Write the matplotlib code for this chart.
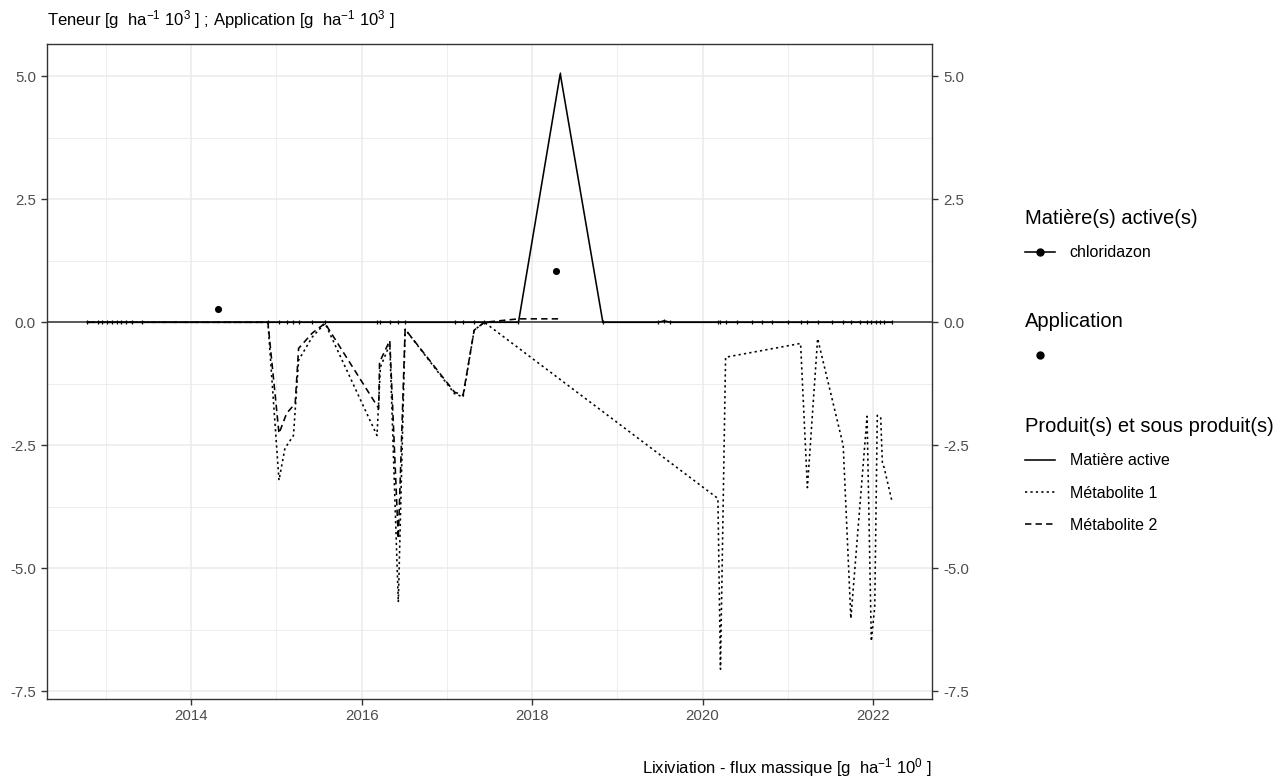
import numpy as np
import matplotlib
matplotlib.use("Agg")
import matplotlib.pyplot as plt
from matplotlib.lines import Line2D

plt.rcParams["font.family"] = ["Liberation Sans", "DejaVu Sans"]
plt.rcParams["mathtext.fontset"] = "custom"
plt.rcParams["mathtext.rm"] = "Liberation Sans"
plt.rcParams["mathtext.it"] = "Liberation Sans:italic"

# --- data (decimal years, values in g/ha x10^3) ---
early_dates = [2012.78, 2012.91, 2012.95, 2013.01, 2013.07, 2013.13, 2013.18, 2013.24, 2013.30, 2013.42]

active_dates = early_dates + [2014.90, 2015.03, 2015.12, 2015.20, 2015.26, 2015.42, 2015.57,
                              2016.18, 2016.21, 2016.33, 2016.43, 2016.51, 2017.09, 2017.19,
                              2017.32, 2017.44, 2017.84, 2018.33, 2018.83, 2019.48, 2019.55,
                              2019.62, 2020.18, 2020.21, 2020.27, 2020.40, 2020.58, 2020.70,
                              2020.82, 2021.00, 2021.15, 2021.23, 2021.35, 2021.52, 2021.65,
                              2021.74, 2021.85, 2021.93, 2021.98, 2022.04, 2022.08, 2022.13,
                              2022.22]
active_vals = [0.0] * 10 + [0.0, 0.0, 0.0, 0.0, 0.0, 0.0, 0.0,
                            0.0, 0.0, 0.0, 0.0, 0.0, 0.0, 0.0,
                            0.0, 0.0, 0.0, 5.05, 0.0, 0.0, 0.03,
                            0.0, 0.0, 0.0, 0.0, 0.0, 0.0, 0.0,
                            0.0, 0.0, 0.0, 0.0, 0.0, 0.0, 0.0,
                            0.0, 0.0, 0.0, 0.0, 0.0, 0.0, 0.0,
                            0.0]

met1_dates = early_dates + [2014.90, 2015.03, 2015.10, 2015.20, 2015.26, 2015.42, 2015.57,
                            2016.18, 2016.22, 2016.33, 2016.43, 2016.51, 2017.09, 2017.19,
                            2017.32, 2017.44, 2020.18, 2020.21, 2020.27, 2021.15, 2021.23,
                            2021.35, 2021.65, 2021.74, 2021.93, 2021.98, 2022.02, 2022.05,
                            2022.09, 2022.11, 2022.13, 2022.22]
met1_vals = [0.0] * 10 + [0.0, -3.21, -2.56, -2.30, -0.77, -0.30, -0.02,
                          -2.30, -0.91, -0.45, -5.69, -0.14, -1.45, -1.52,
                          -0.16, 0.0, -3.58, -7.05, -0.71, -0.43, -3.36,
                          -0.33, -2.50, -6.02, -1.91, -6.48, -5.79, -1.89,
                          -1.93, -2.87, -2.95, -3.62]

met2_dates = early_dates + [2014.90, 2015.03, 2015.12, 2015.22, 2015.26, 2015.42, 2015.57,
                            2016.20, 2016.21, 2016.33, 2016.43, 2016.51, 2017.09, 2017.19,
                            2017.32, 2017.44, 2017.84, 2018.33]
met2_vals = [0.0] * 10 + [0.0, -2.26, -1.85, -1.65, -0.53, -0.22, -0.02,
                          -1.75, -0.81, -0.37, -4.40, -0.14, -1.42, -1.48,
                          -0.16, 0.0, 0.07, 0.07]

app_dates = [2014.31, 2018.28]
app_vals = [0.26, 1.05]

y_ticks = [-7.5, -5.0, -2.5, 0.0, 2.5, 5.0]
x_ticks = [2014, 2016, 2018, 2020, 2022]

# --- figure ---
fig = plt.figure(figsize=(12.79, 7.80), dpi=100)
ax = fig.add_axes([47 / 1279, 81 / 780, 885 / 1279, 655 / 780])

GRID = "#ebebeb"
lw = 1.15
DOT = (1.4, 2.0)
DASH = (4.0, 2.6)
ax.axhline(0, color="#4d4d4d", lw=1.3, zorder=2)
ax.plot(active_dates, active_vals, color="black", lw=lw, marker="|", ms=2.5, mew=0.9,
        solid_joinstyle="miter", zorder=3)
ax.plot(met1_dates, met1_vals, color="black", lw=lw, dashes=DOT, zorder=3)
ax.plot(met2_dates, met2_vals, color="black", lw=lw, dashes=DASH, zorder=3)
ax.scatter(app_dates, app_vals, s=26, color="black", zorder=4, linewidths=0)

# ggplot-like 5% expansion
all_x = active_dates + met1_dates + met2_dates + app_dates
all_y = active_vals + met1_vals + met2_vals + app_vals
x0, x1 = min(all_x), max(all_x)
y0, y1 = min(all_y), max(all_y)
ax.set_xlim(x0 - 0.05 * (x1 - x0), x1 + 0.05 * (x1 - x0))
ax.set_ylim(y0 - 0.05 * (y1 - y0), y1 + 0.05 * (y1 - y0))

ax.set_xticks(x_ticks)
ax.set_xticks([2013, 2015, 2017, 2019, 2021], minor=True)
ax.set_yticks(y_ticks)
ax.set_yticks([-6.25, -3.75, -1.25, 1.25, 3.75], minor=True)
ax.set_yticklabels([f"{v:.1f}" for v in y_ticks])
ax.grid(which="major", color=GRID, lw=1.1)
ax.grid(which="minor", color=GRID, lw=0.6)
ax.set_axisbelow(True)
ax.tick_params(which="major", length=4, width=1.0, color="#333333",
               labelsize=10.8, labelcolor="#4d4d4d", right=True, labelright=True)
ax.tick_params(axis="y", which="major", pad=4)
ax.tick_params(which="minor", length=0)
for s in ax.spines.values():
    s.set_color("#333333")
    s.set_linewidth(1.0)

fig.text(47 / 1279, 1 - 20 / 780,
         r"Teneur [g  ha$^{-1}$ 10$^{3}$ ] ; Application [g  ha$^{-1}$ 10$^{3}$ ]",
         ha="left", va="center", fontsize=12)
fig.text(932 / 1279, 1 - 768 / 780,
         r"Lixiviation - flux massique [g  ha$^{-1}$ 10$^{0}$ ]",
         ha="right", va="center", fontsize=12)

# --- legends ---
leg_kw = dict(frameon=False, alignment="left", fontsize=11.5, title_fontsize=14.5,
              handlelength=1.9, handletextpad=0.9, labelspacing=1.08, borderpad=0,
              borderaxespad=0, loc="upper left")
h1 = [Line2D([], [], color="black", lw=lw, marker="o", ms=5)]
leg1 = fig.legend(h1, ["chloridazon"], title="Matière(s) active(s)",
                  bbox_to_anchor=(1025 / 1279, 1 - 209 / 780), **leg_kw)
h2 = [Line2D([], [], color="black", lw=0, marker="o", ms=5)]
leg2 = fig.legend(h2, [""], title="Application",
                  bbox_to_anchor=(1025 / 1279, 1 - 312 / 780), **leg_kw)
h3 = [Line2D([], [], color="black", lw=lw),
      Line2D([], [], color="black", lw=lw, dashes=DOT),
      Line2D([], [], color="black", lw=lw, dashes=DASH)]
leg3 = fig.legend(h3, ["Matière active", "Métabolite 1", "Métabolite 2"],
                  title="Produit(s) et sous produit(s)",
                  bbox_to_anchor=(1025 / 1279, 1 - 417 / 780), **leg_kw)

fig.savefig("out.png", dpi=100)
